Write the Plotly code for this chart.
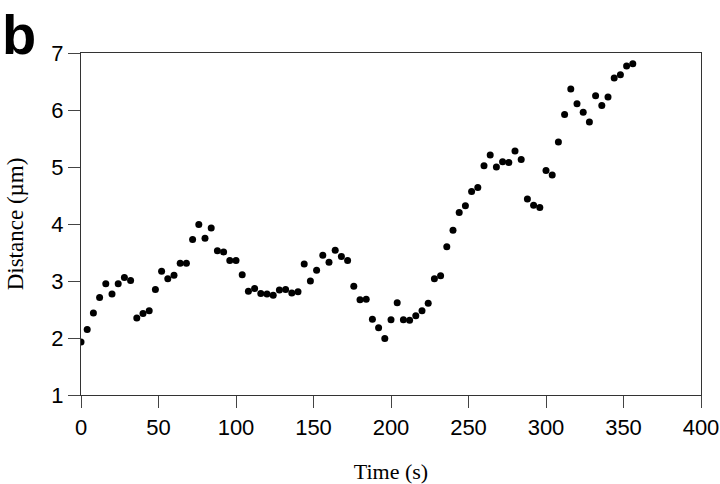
import plotly.graph_objects as go

time_s = [0, 4, 8, 12, 16, 20, 24, 28, 32, 36, 40, 44, 48, 52, 56, 60, 64, 68, 72, 76,
          80, 84, 88, 92, 96, 100, 104, 108, 112, 116, 120, 124, 128, 132, 136, 140,
          144, 148, 152, 156, 160, 164, 168, 172, 176, 180, 184, 188, 192, 196, 200,
          204, 208, 212, 216, 220, 224, 228, 232, 236, 240, 244, 248, 252, 256, 260,
          264, 268, 272, 276, 280, 284, 288, 292, 296, 300, 304, 308, 312, 316, 320,
          324, 328, 332, 336, 340, 344, 348, 352, 356]
distance_um = [1.93, 2.15, 2.44, 2.71, 2.95, 2.77, 2.95, 3.06, 3.01, 2.35, 2.43, 2.48,
               2.85, 3.17, 3.04, 3.10, 3.31, 3.31, 3.73, 3.99, 3.75, 3.93, 3.53, 3.51,
               3.36, 3.36, 3.11, 2.82, 2.87, 2.78, 2.77, 2.75, 2.84, 2.85, 2.79, 2.81,
               3.30, 3.00, 3.19, 3.45, 3.33, 3.54, 3.43, 3.36, 2.91, 2.67, 2.68, 2.33,
               2.18, 1.99, 2.32, 2.62, 2.32, 2.31, 2.39, 2.48, 2.61, 3.04, 3.09, 3.60,
               3.89, 4.20, 4.32, 4.57, 4.64, 5.02, 5.21, 5.00, 5.09, 5.08, 5.28, 5.13,
               4.44, 4.33, 4.29, 4.94, 4.86, 5.44, 5.92, 6.37, 6.11, 5.96, 5.79, 6.25,
               6.08, 6.23, 6.56, 6.62, 6.77, 6.81]

x_ticks = [0, 50, 100, 150, 200, 250, 300, 350, 400]
y_ticks = [1, 2, 3, 4, 5, 6, 7]

fig = go.Figure()
fig.add_trace(go.Scatter(
    x=time_s, y=distance_um, mode="markers",
    marker=dict(color="black", size=7),
    showlegend=False,
))

axis_common = dict(
    showline=True, linecolor="#333333", linewidth=1.2, mirror=True,
    ticks="outside", ticklen=12, tickwidth=1.2, tickcolor="#444444",
    showgrid=False, zeroline=False, automargin=False,
    tickfont=dict(family="Arial, Liberation Sans, sans-serif", size=22, color="black"),
)

fig.update_xaxes(
    range=[0, 400], tickvals=x_ticks, ticktext=[str(v) for v in x_ticks],
    title=dict(text="Time (s)", font=dict(family="Times New Roman, Liberation Serif, serif",
                                          size=22, color="black"), standoff=28),
    **axis_common,
)
fig.update_yaxes(
    range=[1, 7], tickvals=y_ticks, ticktext=[str(v) for v in y_ticks],
    title=dict(text="Distance (µm)", font=dict(family="Times New Roman, Liberation Serif, serif",
                                               size=23, color="black"), standoff=21),
    **axis_common,
)

fig.add_annotation(
    text="<b>b</b>", xref="paper", yref="paper", x=-0.130, y=1.153,
    xanchor="left", yanchor="top", showarrow=False,
    font=dict(family="Arial, Liberation Sans, sans-serif", size=56, color="black"),
)

fig.update_layout(
    width=720, height=484,
    margin=dict(l=81, r=19, t=53, b=89),
    paper_bgcolor="white", plot_bgcolor="white",
)

fig.write_html("out.html", config={"displayModeBar": False},
               post_script="document.body.style.margin='0';")
